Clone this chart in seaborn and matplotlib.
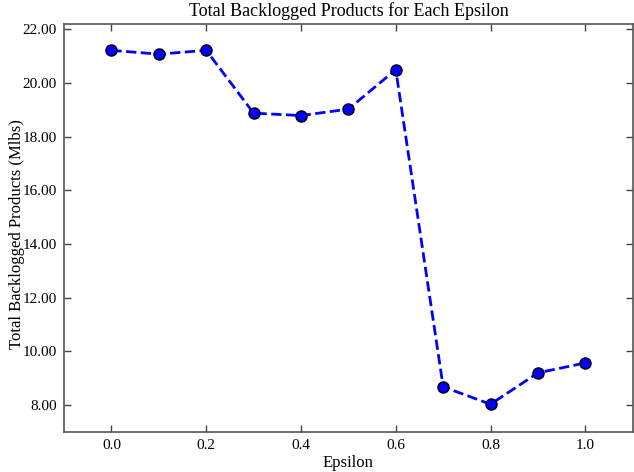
import matplotlib
matplotlib.use("Agg")
import matplotlib.pyplot as plt
import matplotlib.ticker as mticker
import seaborn as sns

epsilon = [0.0, 0.1, 0.2, 0.3, 0.4, 0.5, 0.6, 0.7, 0.8, 0.9, 1.0]
backlog = [21.22, 21.08, 21.22, 18.88, 18.79, 19.03, 20.50, 8.68, 8.03, 9.20, 9.57]

sns.set_style("ticks")
plt.rcParams['font.family'] = ['Liberation Serif', 'DejaVu Serif']
plt.rcParams['text.color'] = 'black'
plt.rcParams['axes.labelcolor'] = 'black'

fig = plt.figure(figsize=(6.34, 4.72), dpi=100)
ax = fig.add_axes([0.101, 0.085, 0.897, 0.864])

sns.lineplot(x=epsilon, y=backlog, ax=ax, color='blue', linestyle='--', linewidth=2,
             marker='o', markersize=8, markerfacecolor='blue', markeredgecolor='black',
             markeredgewidth=1)

ax.set_xlim(-0.1, 1.1)
ax.set_ylim(7.0, 22.2)
ax.set_xticks([0.0, 0.2, 0.4, 0.6, 0.8, 1.0])
ax.set_yticks([8, 10, 12, 14, 16, 18, 20, 22])
ax.yaxis.set_major_formatter(mticker.FormatStrFormatter('%.2f'))
ax.xaxis.set_major_formatter(mticker.FormatStrFormatter('%.1f'))
ax.tick_params(direction='in', top=True, right=True, length=5, width=1, labelsize=11,
               color='#444444', labelcolor='black', pad=5)
for s in ax.spines.values():
    s.set_color('#555555')
    s.set_linewidth(1.2)

ax.set_title('Total Backlogged Products for Each Epsilon', fontsize=13, color='black')
ax.set_xlabel('Epsilon', fontsize=12, labelpad=2)
ax.set_ylabel('Total Backlogged Products (Mlbs)', fontsize=12)
ax.yaxis.set_label_coords(-0.069, 0.485)

fig.savefig('out.png', dpi=100)
